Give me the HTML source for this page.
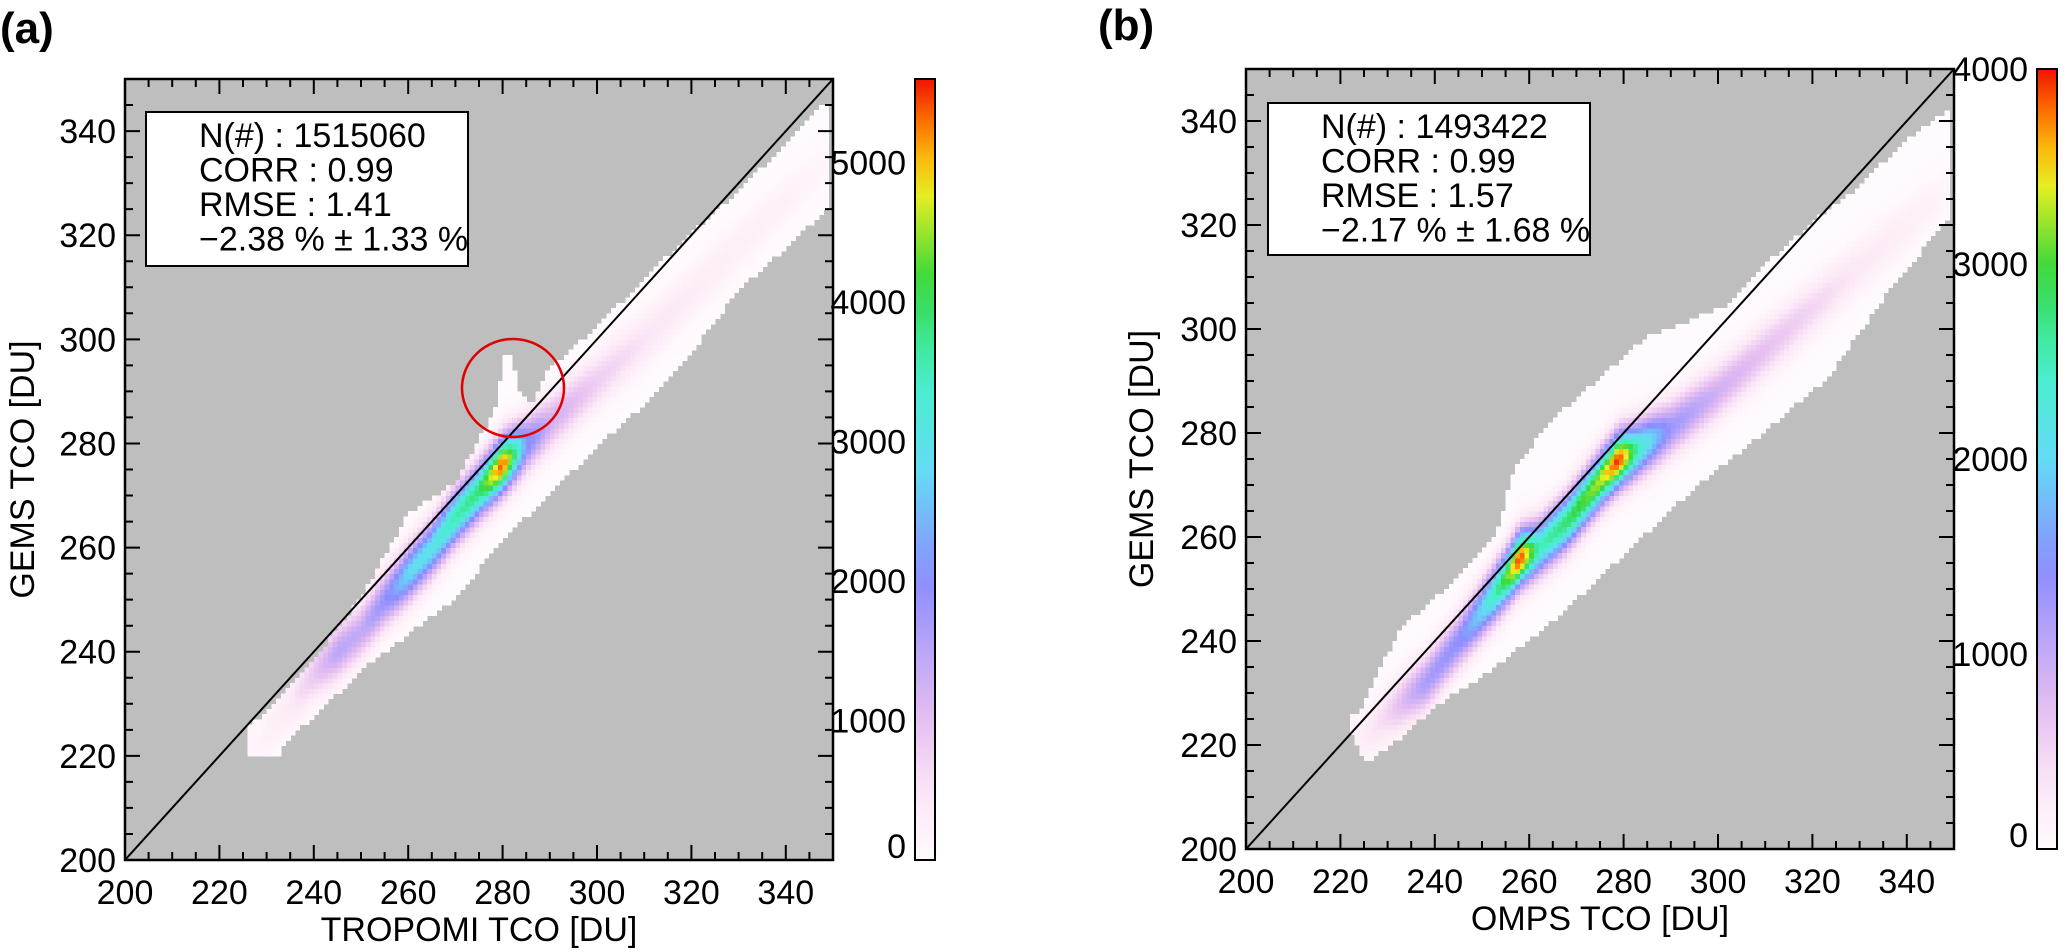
<!DOCTYPE html>
<html><head><meta charset="utf-8">
<style>
html,body{margin:0;padding:0;background:#fff;}
svg{display:block;font-family:"Liberation Sans",Arial,sans-serif;}
</style></head>
<body>
<svg id="fig" width="2067" height="952" viewBox="0 0 2067 952" xmlns="http://www.w3.org/2000/svg">
<text x="0" y="43" font-size="44" font-weight="bold">(a)</text>
<text x="1098" y="40" font-size="44" font-weight="bold">(b)</text>
</svg>
<script>
// ---- Panel A data (TROPOMI vs GEMS) ----
const aUpperX = [226,230,240,250,260,265,270,276,279,280,282,283,286,290,300,310,320,330,340,347,349];
const aUpperY = [225,228,238,250,266,269,272,282,287,297,297,290,287,294,302,311,320,328,337,344,345];
const aLowerX = [226,232,235,240,250,260,270,280,290,300,310,320,330,340,349];
const aLowerY = [220,220,224,228,237,244,251,262,271,280,288,298,310,318,326];
const aCoreX = [228,235,240,245,250,255,260,265,270,275,280,285,290,300,310,320,330,340,349];
const aCoreY = [223,230,236,240,244,250,255,260,266,271,276,280,284,292,300,309,318,327,334];
const aPeak  = [150,400,900,1500,1400,1900,2800,3000,3600,3900,5500,2200,1300,800,500,350,250,200,100];
const aStats = ["N(#) : 1515060","CORR : 0.99","RMSE : 1.41","\u22122.38 % \u00b1 1.33 %"];
const aCbTicks = [0,1000,2000,3000,4000,5000];
// ---- Panel B data (OMPS vs GEMS) ----
const bUpperX = [222,224,228,233,244,253,257,265,271,285,302,310,320,330,340,348,349];
const bUpperY = [225,226,234,242,251,260,273,282,287,298,304,312,320,327,336,341,342];
const bLowerX = [222,225,233,240,252,267,281,295,310,323,337,349];
const bLowerY = [224,217,222,228,235,246,258,270,281,291,309,322];
const bCoreX = [224,230,238,245,250,255,258,262,268,275,279,283,290,300,310,320,330,340,349];
const bCoreY = [221,226,232,240,246,252,256,258,263,271,275,277,281,288,296,304,312,320,327];
const bPeak  = [200,500,1200,1400,2000,3000,4000,2500,2800,3300,4000,2500,1300,900,700,500,300,200,100];
const bStats = ["N(#) : 1493422","CORR : 0.99","RMSE : 1.57","\u22122.17 % \u00b1 1.68 %"];
const bCbTicks = [0,1000,2000,3000,4000];
const axisTicks = [200,220,240,260,280,300,320,340];

const NS="http://www.w3.org/2000/svg";
const svg=document.getElementById('fig');
function mk(tag,attrs,parent){const e=document.createElementNS(NS,tag);for(const k in attrs)e.setAttribute(k,attrs[k]);(parent||svg).appendChild(e);return e;}
function interp(xs,ys,x){if(x<=xs[0])return ys[0];for(let i=1;i<xs.length;i++){if(x<=xs[i]){const t=(x-xs[i-1])/(xs[i]-xs[i-1]);return ys[i-1]+t*(ys[i]-ys[i-1]);}}return ys[ys.length-1];}
const cmapStops=[[0,[255,250,253]],[0.08,[252,232,246]],[0.18,[230,190,240]],[0.36,[140,140,255]],[0.5,[100,220,245]],[0.62,[70,240,200]],[0.74,[50,215,60]],[0.86,[245,240,30]],[0.93,[255,140,0]],[1,[240,20,0]]];
function cmap(f){f=Math.max(0,Math.min(1,f));for(let i=1;i<cmapStops.length;i++){if(f<=cmapStops[i][0]){const a=cmapStops[i-1],b=cmapStops[i];const t=(f-a[0])/(b[0]-a[0]);const c=a[1].map((v,j)=>Math.round(v+t*(b[1][j]-v)));return `rgb(${c[0]},${c[1]},${c[2]})`;}}return 'rgb(240,20,0)';}

function panel(o){
  const L=o.L,R=o.R,T=o.T,B=o.B;
  const sx=v=>L+(v-200)/150*(R-L), sy=v=>B-(v-200)/150*(B-T);
  const g=mk('g',{});
  
  
  const bg=mk('rect',{x:L,y:T,width:R-L,height:B-T,fill:'#bebebe'},g);
  
  
  const hm=mk('g',{'shape-rendering':'crispEdges'},g);
  
  
  const x0=Math.min(o.ux[0],o.lx[0]),x1=Math.max(o.ux[o.ux.length-1],o.lx[o.lx.length-1]);
  const cw=(R-L)/150,ch=(B-T)/150;
  for(let x=x0;x<x1;x++){
    const up=interp(o.ux,o.uy,x+0.5),lo=interp(o.lx,o.ly,x+0.5);
    const c=interp(o.cx,o.cy,x+0.5),pk=interp(o.cx,o.pk,x+0.5);
    for(let y=Math.floor(lo);y<Math.ceil(up);y++){
      const d=(y+0.5-c)/5;
      const v=pk*Math.exp(-d*d);
      const cell=mk('rect',{x:sx(x).toFixed(1),y:sy(y+1).toFixed(1),width:(cw+0.6).toFixed(1),height:(ch+0.6).toFixed(1),fill:cmap(v/o.vmax)},hm);
      
      
    }
  }
  const dl=mk('line',{x1:sx(200),y1:sy(200),x2:sx(350),y2:sy(350),stroke:'#000','stroke-width':2},g);
  
  
  const fr=mk('rect',{x:L,y:T,width:R-L,height:B-T,fill:'none',stroke:'#000','stroke-width':2.5},g);
  
  
  for(let v=205;v<350;v+=5){
    const len=(v%20===0)?15:8;
    const tg=mk('path',{d:`M${sx(v)},${B}v${-len}M${sx(v)},${T}v${len}M${L},${sy(v)}h${len}M${R},${sy(v)}h${-len}`,stroke:'#000','stroke-width':2,fill:'none'},g);
    
    
  }
  axisTicks.forEach(v=>{
    const tx=mk('text',{x:sx(v),y:B+44,'font-size':34,'text-anchor':'middle'},g);tx.textContent=v;
    
    
    const ty=mk('text',{x:L-9,y:sy(v)+12,'font-size':34,'text-anchor':'end'},g);ty.textContent=v;
    
    
  });
  const xt=mk('text',{x:(L+R)/2,y:B+81,'font-size':34,'text-anchor':'middle'},g);xt.textContent=o.xtitle;
  
  
  const yt=mk('text',{x:0,y:0,'font-size':34,'text-anchor':'middle',transform:`translate(${o.ytx},${(T+B)/2}) rotate(-90)`},g);yt.textContent='GEMS TCO [DU]';
  
  
  const bx=mk('rect',{x:o.box[0],y:o.box[1],width:o.box[2],height:o.box[3],fill:'#fff',stroke:'#000','stroke-width':2},g);
  
  
  o.stats.forEach((s,i)=>{
    const t=mk('text',{x:o.box[0]+53,y:o.box[1]+35+i*34.5,'font-size':34},g);t.textContent=s;
    
    
  });
  const cb=mk('g',{},g);
  
  
  const gid='grad-'+o.name;
  const defs=mk('defs',{},cb);
  const lg=mk('linearGradient',{id:gid,x1:0,y1:1,x2:0,y2:0},defs);
  for(let i=0;i<=20;i++){mk('stop',{offset:i/20,'stop-color':cmap(i/20)},lg);}
  mk('rect',{x:o.cbL,y:T,width:o.cbW,height:B-T,fill:`url(#${gid})`,stroke:'#000','stroke-width':2},cb);
  const cy=v=>B-v/o.vmax*(B-T);
  o.cbTicks.forEach(v=>{
    const t=mk('text',{x:o.cbL-9,y:Math.min(cy(v)+12,B-2),'font-size':34,'text-anchor':'end'},cb);t.textContent=v;
    
    
  });
}
panel({name:'panel-a',L:125,R:833,T:79,B:860,ux:aUpperX,uy:aUpperY,lx:aLowerX,ly:aLowerY,cx:aCoreX,cy:aCoreY,pk:aPeak,vmax:5600,
  xtitle:'TROPOMI TCO [DU]',ytx:34,box:[146,112,322,154],stats:aStats,cbL:915,cbW:20,cbTicks:aCbTicks});
panel({name:'panel-b',L:1246,R:1954,T:69,B:849,ux:bUpperX,uy:bUpperY,lx:bLowerX,ly:bLowerY,cx:bCoreX,cy:bCoreY,pk:bPeak,vmax:4000,
  xtitle:'OMPS TCO [DU]',ytx:1153,box:[1268,103,322,152],stats:bStats,cbL:2037,cbW:20,cbTicks:bCbTicks});
const circ=mk('ellipse',{cx:513,cy:388,rx:51,ry:49,fill:'none',stroke:'#e00000','stroke-width':2.5});


</script>
</body></html>
